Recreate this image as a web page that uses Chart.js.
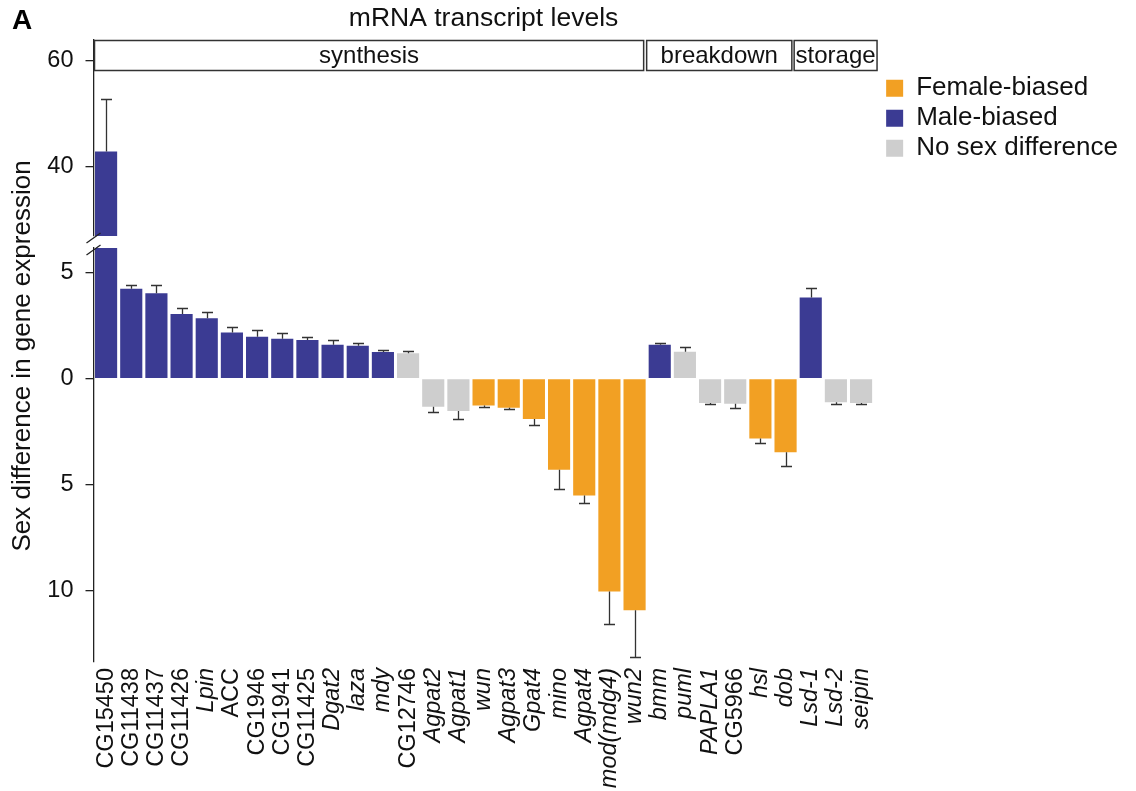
<!DOCTYPE html>
<html>
<head>
<meta charset="utf-8">
<script src="https://cdn.jsdelivr.net/npm/chart.js@4.4.1/dist/chart.umd.min.js"></script>
<style>
html,body{margin:0;padding:0;background:#fff;}
canvas{display:block;}
</style>
</head>
<body>
<canvas id="c" width="1136" height="791"></canvas>
<script>
// ---------- data ----------
const categories = ['CG15450','CG11438','CG11437','CG11426','Lpin','ACC','CG1946','CG1941','CG11425','Dgat2','laza','mdy','CG12746','Agpat2','Agpat1','wun','Agpat3','Gpat4','mino','Agpat4','mod(mdg4)','wun2','bmm','puml','PAPLA1','CG5966','hsl','dob','Lsd-1','Lsd-2','seipin'];
// signed sex difference (positive = male higher, negative = female higher)
const values = [42.8,4.24,4.02,3.05,2.85,2.17,1.97,1.88,1.82,1.6,1.55,1.25,1.2,-1.33,-1.53,-1.27,-1.38,-1.91,-4.3,-5.52,-10.05,-10.93,1.6,1.27,-1.15,-1.19,-2.83,-3.47,3.83,-1.12,-1.15];
const errors = [10.0,0.19,0.39,0.30,0.28,0.24,0.33,0.28,0.12,0.2,0.12,0.08,0.12,0.24,0.36,0.08,0.06,0.29,0.9,0.33,1.55,2.19,0.09,0.2,0.05,0.21,0.22,0.67,0.45,0.07,0.07];
// M = male-biased, F = female-biased, N = no sex difference
const bias = ['M','M','M','M','M','M','M','M','M','M','M','M','N','N','N','F','F','F','F','F','F','F','M','N','N','N','F','F','M','N','N'];
const uprightLabels = ['CG15450','CG11438','CG11437','CG11426','ACC','CG1946','CG1941','CG11425','CG12746','CG5966'];
const groupNames = ['synthesis','breakdown','storage'];
const groupSizes = [22,6,3];
const seriesNames = {F:'Female-biased', M:'Male-biased', N:'No sex difference'};
const upperTicks = [40,60];
const lowerTicks = [5,0,-5,-10];

// ---------- style ----------
const FONT = "'Liberation Sans', Arial, Helvetica, sans-serif";
const BLUE = '#3b3b93', ORANGE = '#f2a023', GRAY = '#cecece';
const LOW_MIN = -13.37, LOW_MAX = 6.16, TOP_MIN = 26.8, TOP_MAX = 63.9;

const pick = (code) => values.map((v,i) => bias[i] === code ? v : null);
const upperVals = values.map(v => v > LOW_MAX ? v : null);

const errorBarPlugin = {
  id: 'errorBars',
  afterDatasetsDraw(chart) {
    const {ctx, scales} = chart;
    const x = scales.x, yTop = scales.yTop, yLow = scales.yLow;
    ctx.save();
    ctx.strokeStyle = '#333';
    ctx.lineWidth = 1.3;
    values.forEach((v, i) => {
      const s = v > yLow.max ? yTop : yLow;
      const px = Math.round(x.getPixelForValue(i)) + 0.5;
      const end = v + Math.sign(v) * errors[i];
      const y1 = s.getPixelForValue(v);
      const y2 = Math.round(s.getPixelForValue(end)) + 0.5;
      ctx.beginPath();
      ctx.moveTo(px, y1); ctx.lineTo(px, y2);
      ctx.moveTo(px - 5.5, y2); ctx.lineTo(px + 5.5, y2);
      ctx.stroke();
    });
    ctx.restore();
  }
};

const decorPlugin = {
  id: 'decor',
  afterDraw(chart) {
    const {ctx, chartArea, scales} = chart;
    const x = scales.x, yTop = scales.yTop, yLow = scales.yLow;
    ctx.save();
    ctx.fillStyle = '#000';
    // panel letter
    ctx.font = 'bold 28px ' + FONT;
    ctx.textAlign = 'left'; ctx.textBaseline = 'alphabetic';
    ctx.fillText('A', 12, 29);
    // y-axis title
    ctx.save();
    ctx.translate(23, 356);
    ctx.rotate(-Math.PI / 2);
    ctx.font = '26px ' + FONT;
    ctx.fillStyle = '#111';
    ctx.textAlign = 'center'; ctx.textBaseline = 'middle';
    ctx.fillText('Sex difference in gene expression', 0, 0);
    ctx.restore();
    // group boxes
    const pitch = x.width / categories.length;
    const adj = [[1, -3.5], [-0.5, -6.3], [-4, 3.4]];
    let start = 0;
    const top = chartArea.top + 0.5, h = 30;
    ctx.strokeStyle = '#333'; ctx.lineWidth = 1.5;
    ctx.font = '24px ' + FONT; ctx.fillStyle = '#111';
    ctx.textAlign = 'center'; ctx.textBaseline = 'middle';
    groupSizes.forEach((n, g) => {
      const l = x.left + start * pitch + adj[g][0];
      const r = x.left + (start + n) * pitch + adj[g][1];
      ctx.fillStyle = '#fff';
      ctx.fillRect(l, top, r - l, h);
      ctx.strokeRect(l, top, r - l, h);
      ctx.fillStyle = '#111';
      ctx.fillText(groupNames[g], (l + r) / 2, top + h / 2 + 1);
      start += n;
    });
    // axis break marks
    const ax = chartArea.left;
    ctx.strokeStyle = '#222'; ctx.lineWidth = 1.3;
    [yTop.bottom + 2, yLow.top + 2].forEach(cy => {
      ctx.beginPath();
      ctx.moveTo(ax - 7, cy + 5);
      ctx.lineTo(ax + 7, cy - 5);
      ctx.stroke();
    });
    ctx.restore();
  }
};

const yCommon = {
  type: 'linear', position: 'left', stack: 'ybreak',
  ticks: {padding: 12, font: {family: FONT, size: 23.5}, color: '#111', includeBounds: false},
  grid: {drawOnChartArea: false, tickLength: 8, color: '#222', lineWidth: 1.3},
  border: {color: '#222', width: 1.3},
  afterFit: s => { s.width = 93.5; }
};

new Chart(document.getElementById('c'), {
  type: 'bar',
  data: {
    labels: categories,
    datasets: [
      {label: seriesNames.F, data: pick('F'), backgroundColor: ORANGE, yAxisID: 'yLow'},
      {label: seriesNames.M, data: pick('M'), backgroundColor: BLUE, yAxisID: 'yLow'},
      {label: seriesNames.N, data: pick('N'), backgroundColor: GRAY, yAxisID: 'yLow'},
      {label: 'upper', data: upperVals, backgroundColor: BLUE, yAxisID: 'yTop'}
    ]
  },
  options: {
    responsive: false,
    animation: false,
    devicePixelRatio: 1,
    layout: {padding: {top: 0, left: 0, right: 8, bottom: 0}},
    datasets: {bar: {grouped: false, barPercentage: 0.88, categoryPercentage: 1, borderWidth: 0}},
    plugins: {
      title: {display: true, text: 'mRNA transcript levels', fullSize: false, color: '#111',
        font: {family: FONT, size: 26.5, weight: 'normal'}, padding: {top: 3, bottom: 5.2}},
      legend: {position: 'right', align: 'start', maxWidth: 400,
        title: {display: true, text: '', font: {size: 1}, padding: {top: 70, bottom: 0}},
        labels: {boxWidth: 17, boxHeight: 17, padding: 4, color: '#111',
          font: {family: FONT, size: 26}, filter: item => item.datasetIndex < 3}},
      tooltip: {enabled: false}
    },
    scales: {
      x: {
        type: 'category', position: 'bottom',
        grid: {display: false}, border: {display: false},
        ticks: {autoSkip: false, maxRotation: 90, minRotation: 90, padding: -2, color: '#111',
          font: (c) => ({family: FONT, size: 23.5,
            style: uprightLabels.includes(categories[c.index]) ? 'normal' : 'italic'})},
        afterFit: s => { s.height = 129; }
      },
      yTop: Object.assign({}, yCommon, {
        weight: 3, stackWeight: 196, min: TOP_MIN, max: TOP_MAX,
        ticks: Object.assign({}, yCommon.ticks, {stepSize: 20}),
        afterBuildTicks: s => { s.ticks = upperTicks.map(v => ({value: v})); }
      }),
      yGap: {
        type: 'linear', position: 'left', stack: 'ybreak', weight: 2, stackWeight: 12,
        min: 0, max: 1, ticks: {display: false}, grid: {display: false}, border: {display: false},
        afterFit: s => { s.width = 93.5; }
      },
      yLow: Object.assign({}, yCommon, {
        weight: 1, stackWeight: 414, min: LOW_MIN, max: LOW_MAX,
        ticks: Object.assign({}, yCommon.ticks, {stepSize: 5, callback: v => Math.abs(v)}),
        afterBuildTicks: s => { s.ticks = lowerTicks.map(v => ({value: v})); }
      }),
      yPad: {
        type: 'linear', position: 'right', ticks: {display: false},
        grid: {display: false}, border: {display: false},
        afterFit: s => { s.width = 8.5; }
      }
    }
  },
  plugins: [errorBarPlugin, decorPlugin]
});
</script>
</body>
</html>
